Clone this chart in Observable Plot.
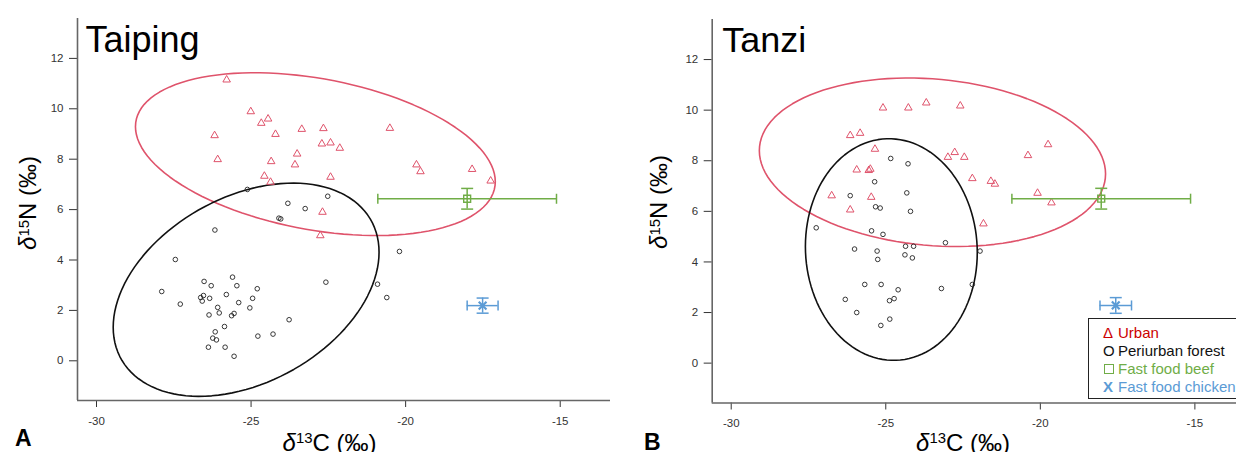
<!DOCTYPE html>
<html><head><meta charset="utf-8">
<script src="https://cdn.jsdelivr.net/npm/d3@7"></script>
<script src="https://cdn.jsdelivr.net/npm/@observablehq/plot@0.6"></script>
<style>
html,body{margin:0;padding:0;background:#fff;overflow:hidden;}
#wrap{position:relative;width:1236px;height:452px;overflow:hidden;font-family:"Liberation Sans",Arial,sans-serif;}
.panel{position:absolute;top:0;}
.panel svg{max-width:none !important;display:block;}
.lbl{position:absolute;font-size:24px;line-height:1;white-space:nowrap;color:#000;}
.lbl sup{font-size:0.62em;position:relative;top:-0.5em;vertical-align:baseline;line-height:0;}
.lbl i{font-style:italic;}
.rot{transform:translate(-50%,-50%) rotate(-90deg);}
.hx{transform:translateX(-50%);}
.letter{position:absolute;font-size:23px;font-weight:bold;line-height:1;color:#000;}
#legend{position:absolute;left:1088px;top:317.7px;width:150px;height:81.3px;border:1px solid #222;background:#fff;box-sizing:border-box;padding:5.4px 0 0 14px;font-size:15px;line-height:18px;white-space:nowrap;}
#legend .sym{display:inline-block;width:15px;text-align:left;}
#legend .sq{display:inline-block;width:8px;height:8px;border:1.4px solid #70AD47;margin-right:4.5px;margin-left:0.5px;vertical-align:0px;}
</style></head>
<body><div id="wrap"></div>
<script>
// ---------------- data ----------------
const xDomain = [-30.615, -13.373];
const yDomain = [-1.575, 13.583];
const xTicks = [-30, -25, -20, -15];
const yTicks = [0, 2, 4, 6, 8, 10, 12];

const taipingUrbanC = [-25.79,-25.01,-24.67,-24.45,-24.21,-23.36,-26.18,-26.08,-23.51,-24.35,-23.58,-24.57,-24.37,-22.66,-22.71,-22.43,-22.13,-20.51,-19.65,-19.52,-17.85,-17.25,-22.43,-22.69,-22.76];
const taipingUrbanN = [11.15,9.89,9.43,9.60,8.99,9.19,8.94,7.99,8.21,7.91,7.78,7.33,7.09,9.22,8.61,8.65,8.44,9.23,7.78,7.51,7.60,7.14,7.29,5.90,4.97];

const taipingForestC = [-25.12,-23.81,-23.25,-24.10,-24.04,-26.17,-22.52,-27.45,-27.89,-27.29,-26.52,-26.29,-26.54,-26.63,-26.58,-26.34,-26.08,-26.03,-26.36,-25.80,-25.60,-25.46,-25.40,-25.55,-25.63,-25.86,-26.16,-26.24,-26.12,-26.38,-25.84,-25.55,-24.80,-24.95,-25.04,-24.78,-24.29,-23.77,-20.20,-22.58,-20.91,-20.61];
const taipingForestN = [6.80,6.25,6.04,5.66,5.63,5.19,6.53,4.02,2.75,2.25,3.15,2.98,2.59,2.51,2.37,2.48,2.12,1.90,1.82,2.63,3.32,2.98,2.31,1.88,1.79,1.36,1.15,0.90,0.83,0.54,0.54,0.18,2.86,2.48,2.10,0.98,1.06,1.63,4.34,3.12,3.04,2.51];

const tanziUrbanC = [-25.09,-24.27,-23.69,-26.15,-25.83,-25.35,-25.94,-25.55,-25.50,-26.75,-25.47,-26.15,-22.59,-22.99,-22.77,-22.46,-22.20,-21.60,-21.47,-19.75,-20.40,-20.09,-19.64,-21.84];
const tanziUrbanN = [10.09,10.09,10.29,9.00,9.09,8.46,7.64,7.62,7.67,6.62,6.56,6.06,10.17,8.14,8.33,8.14,7.30,7.19,7.08,8.64,8.21,6.72,6.34,5.51];

const tanziForestC = [-24.84,-24.28,-25.36,-26.15,-24.32,-25.33,-25.18,-24.20,-27.25,-25.46,-25.09,-26.01,-25.28,-25.26,-24.36,-24.10,-24.38,-24.14,-25.68,-25.15,-24.60,-24.88,-24.73,-26.31,-25.94,-24.87,-25.16,-23.07,-21.95,-23.20,-22.20];
const tanziForestN = [8.09,7.88,7.17,6.62,6.73,6.18,6.13,6.00,5.35,5.23,5.09,4.51,4.43,4.10,4.62,4.62,4.28,4.16,3.11,3.11,2.90,2.47,2.55,2.52,2.00,1.74,1.49,4.76,4.43,2.95,3.11];

// fast food: [mean C, sd C, mean N, sd N]
const taipingBeef = [-18.01, 2.89, 6.43, 0.41];
const taipingChicken = [-17.51, 0.50, 2.19, 0.30];
const tanziBeef = [-18.03, 2.89, 6.50, 0.41];
const tanziChicken = [-17.56, 0.51, 2.28, 0.31];

// ellipses: [centre C, centre N, half-width C, half-height N, N offset of right-most point]
const taipingUrbanEllipse = [-22.92, 8.20, 5.82, 3.23, -1.09];
const taipingForestEllipse = [-25.16, 2.82, 4.30, 4.23, 1.49];
const tanziUrbanEllipse = [-23.49, 7.94, 5.60, 3.33, -0.46];
const tanziForestEllipse = [-24.82, 4.49, 2.78, 4.38, -0.12];

const legendLabels = ["Urban", "Periurban forest", "Fast food beef", "Fast food chicken"];
const legendColors = ["#CC0000", "#111111", "#70AD47", "#5B9BD5"];
const legendSymbols = ["Δ", "O", "", "X"];

// ---------------- helpers ----------------
const RED = "#DF536B", GREEN = "#70AD47", BLUE = "#5B9BD5";
const vSeg = {draw(ctx, size){ const h = Math.sqrt(size / Math.PI); ctx.moveTo(0, -h); ctx.lineTo(0, h); }};
const hSeg = {draw(ctx, size){ const h = Math.sqrt(size / Math.PI); ctx.moveTo(-h, 0); ctx.lineTo(h, 0); }};

function ellipsePts(e){
  const [cx, cy, w, h, p] = e;
  const q = Math.sqrt(h*h - p*p);
  return d3.range(0, 360, 3).map(a => {
    const t = a * Math.PI / 180;
    return {x: cx + w*Math.cos(t), y: cy + p*Math.cos(t) + q*Math.sin(t)};
  });
}
function errRows(f){ return [{c: f[0], cl: f[0]-f[1], ch: f[0]+f[1], n: f[2], nl: f[2]-f[3], nh: f[2]+f[3]}]; }

function panel(o){
  const urban = o.uC.map((c,i)=>({c, n:o.uN[i]}));
  const forest = o.fC.map((c,i)=>({c, n:o.fN[i]}));
  const beef = errRows(o.beef), chick = errRows(o.chick);
  return Plot.plot({
    width: o.width, height: 452,
    marginLeft: o.ml, marginRight: 10, marginTop: o.mt, marginBottom: o.mb,
    style: {fontSize: "11.5px", fontFamily: "Liberation Sans, Arial, sans-serif", color: "#333", background: "transparent", overflow: "visible"},
    x: {domain: xDomain, ticks: xTicks, tickSize: 7, tickPadding: 9, tickFormat: d => String(d), label: null},
    y: {domain: yDomain, ticks: yTicks, tickSize: 8, tickPadding: 6, tickFormat: d => String(d), label: null},
    marks: [
      Plot.ruleX([xDomain[0]], {stroke: "#666", strokeWidth: 1.6}),
      Plot.ruleY([yDomain[0]], {stroke: "#666", strokeWidth: 1.6}),
      Plot.line(ellipsePts(o.eU), {x: "x", y: "y", curve: "linear-closed", stroke: RED, strokeWidth: 1.6}),
      Plot.line(ellipsePts(o.eF), {x: "x", y: "y", curve: "linear-closed", stroke: "#111", strokeWidth: 1.6}),
      Plot.dot(urban, {x: "c", y: "n", symbol: "triangle", r: 2.8, stroke: RED, strokeWidth: 1, fill: "none"}),
      Plot.dot(forest, {x: "c", y: "n", symbol: "circle", r: 2.3, stroke: "#222", strokeWidth: 0.9, fill: "none"}),
      // beef
      Plot.ruleY(beef, {y: "n", x1: "cl", x2: "ch", stroke: GREEN, strokeWidth: 1.5}),
      Plot.ruleX(beef, {x: "c", y1: "nl", y2: "nh", stroke: GREEN, strokeWidth: 1.5}),
      Plot.dot(beef, {x: "cl", y: "n", symbol: vSeg, r: 5, stroke: GREEN, strokeWidth: 1.5, fill: "none"}),
      Plot.dot(beef, {x: "ch", y: "n", symbol: vSeg, r: 5, stroke: GREEN, strokeWidth: 1.5, fill: "none"}),
      Plot.dot(beef, {x: "c", y: "nl", symbol: hSeg, r: 6, stroke: GREEN, strokeWidth: 1.5, fill: "none"}),
      Plot.dot(beef, {x: "c", y: "nh", symbol: hSeg, r: 6, stroke: GREEN, strokeWidth: 1.5, fill: "none"}),
      Plot.dot(beef, {x: "c", y: "n", symbol: "square", r: 3.9, stroke: GREEN, strokeWidth: 1.4, fill: "none"}),
      // chicken
      Plot.ruleY(chick, {y: "n", x1: "cl", x2: "ch", stroke: BLUE, strokeWidth: 1.5}),
      Plot.ruleX(chick, {x: "c", y1: "nl", y2: "nh", stroke: BLUE, strokeWidth: 1.5}),
      Plot.dot(chick, {x: "cl", y: "n", symbol: vSeg, r: 5, stroke: BLUE, strokeWidth: 1.5, fill: "none"}),
      Plot.dot(chick, {x: "ch", y: "n", symbol: vSeg, r: 5, stroke: BLUE, strokeWidth: 1.5, fill: "none"}),
      Plot.dot(chick, {x: "c", y: "nl", symbol: hSeg, r: 6, stroke: BLUE, strokeWidth: 1.5, fill: "none"}),
      Plot.dot(chick, {x: "c", y: "nh", symbol: hSeg, r: 6, stroke: BLUE, strokeWidth: 1.5, fill: "none"}),
      Plot.dot(chick, {x: "c", y: "n", symbol: "times", r: 3.6, stroke: BLUE, strokeWidth: 2.2, fill: "none"}),
      // title
      Plot.text([o.title], {frameAnchor: "top-left", text: d => d, dx: o.tdx, dy: o.tdy, lineAnchor: "top", textAnchor: "start", fontSize: 36, fill: "#000"})
    ]
  });
}

const wrap = document.getElementById("wrap");
function addPanel(left, width, chart){
  const d = document.createElement("div");
  d.className = "panel"; d.style.left = left + "px"; d.style.width = width + "px";
  d.appendChild(chart); wrap.appendChild(d);
}
addPanel(0, 620, panel({width: 620, ml: 77, mt: 18, mb: 52, title: "Taiping", tdx: 8, tdy: 8,
  uC: taipingUrbanC, uN: taipingUrbanN, fC: taipingForestC, fN: taipingForestN,
  beef: taipingBeef, chick: taipingChicken, eU: taipingUrbanEllipse, eF: taipingForestEllipse}));
addPanel(620, 634.7, panel({width: 634.7, ml: 91.7, mt: 19, mb: 49.5, title: "Tanzi", tdx: 10, tdy: 7,
  uC: tanziUrbanC, uN: tanziUrbanN, fC: tanziForestC, fN: tanziForestN,
  beef: tanziBeef, chick: tanziChicken, eU: tanziUrbanEllipse, eF: tanziForestEllipse}));

function addHTML(cls, style, html){
  const d = document.createElement("div");
  d.className = cls; d.setAttribute("style", style); d.innerHTML = html; wrap.appendChild(d);
}
const yLab = '<i>δ</i><sup>15</sup>N (‰)';
const xLab = '<i>δ</i><sup>13</sup>C (‰)';
addHTML("lbl rot", "left:28px;top:203px;", yLab);
addHTML("lbl rot", "left:659px;top:202px;", yLab);
addHTML("lbl hx", "left:329.5px;top:430.5px;", xLab);
addHTML("lbl hx", "left:963px;top:430.5px;", xLab);
addHTML("letter", "left:15px;top:427.2px;", "A");
addHTML("letter", "left:644px;top:430.5px;", "B");

const leg = document.createElement("div");
leg.id = "legend";
legendLabels.forEach((lab, i) => {
  const row = document.createElement("div");
  row.style.color = legendColors[i];
  const sym = legendSymbols[i]
    ? `<span class="sym"${i===3?' style="font-weight:bold"':''}>${legendSymbols[i]}</span>`
    : `<span class="sq"></span>`;
  row.innerHTML = sym + lab;
  leg.appendChild(row);
});
wrap.appendChild(leg);
</script>
</body></html>
